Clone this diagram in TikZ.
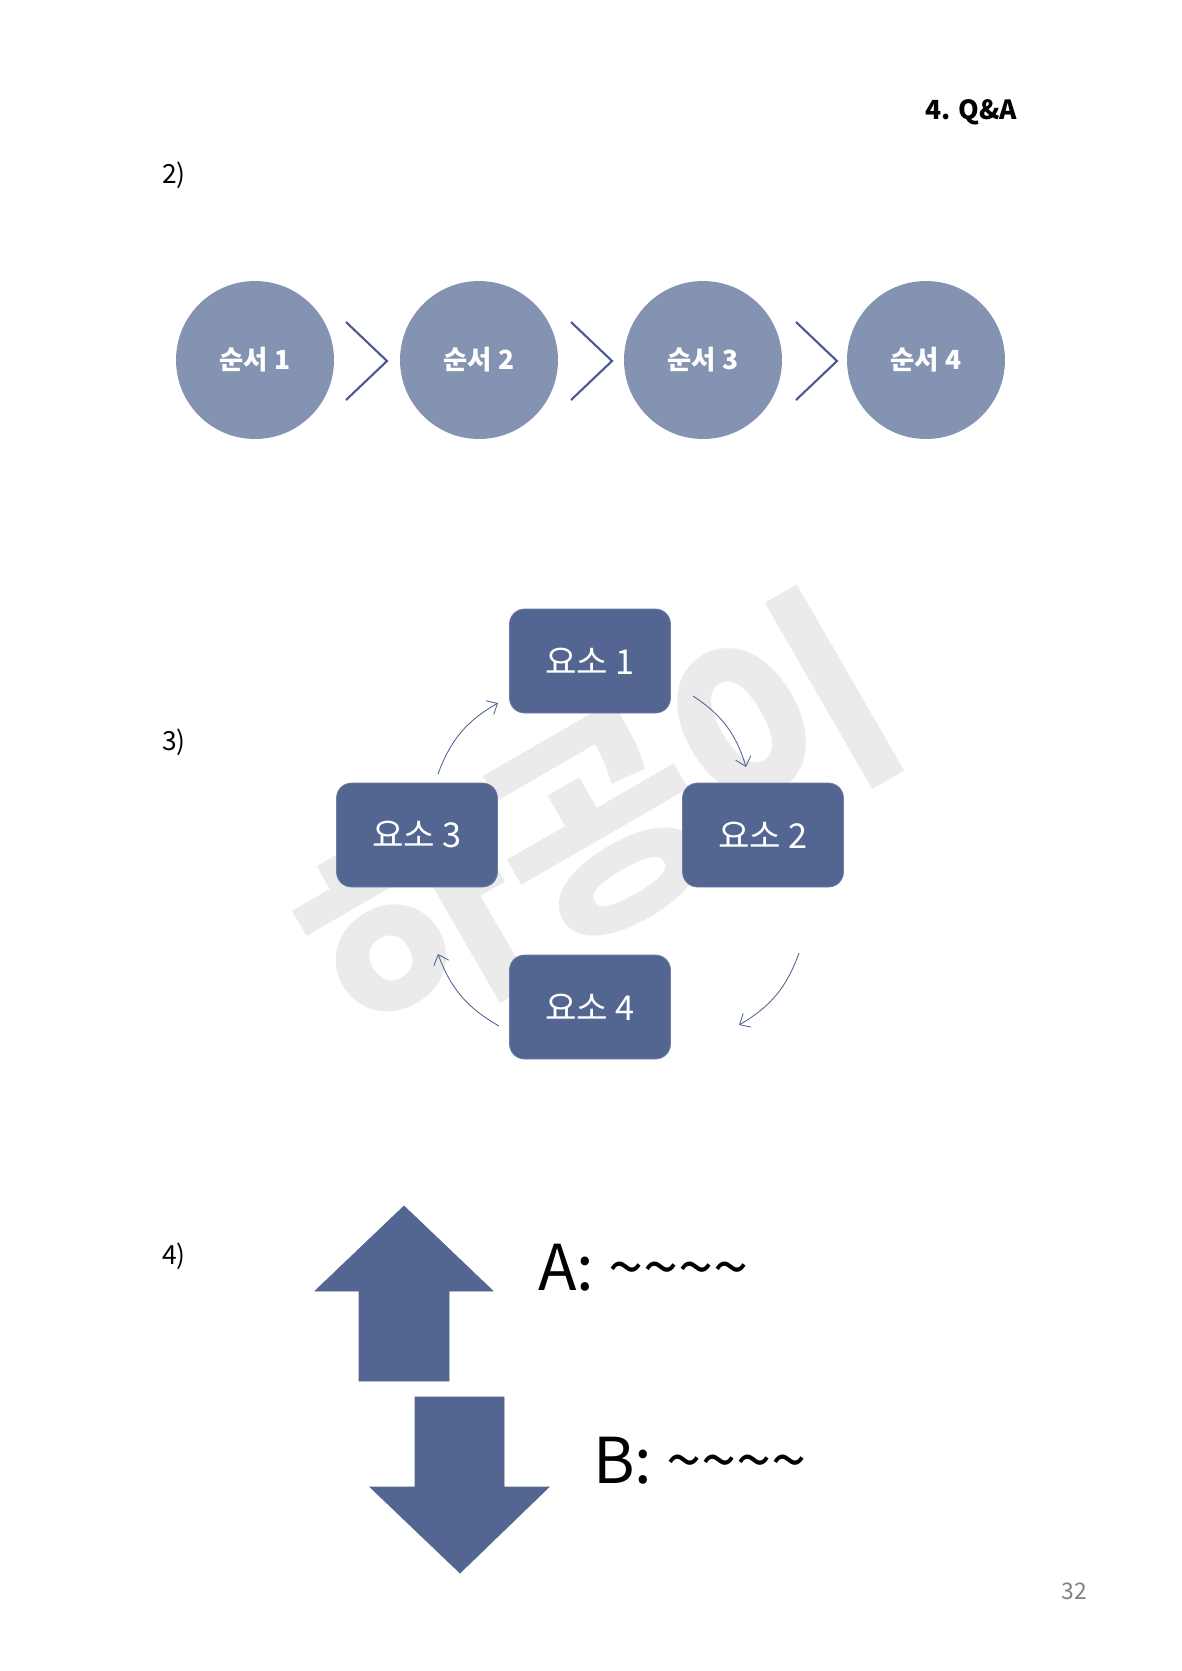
\documentclass[tikz,border=0pt]{standalone}
\usepackage{fontspec}
\newfontfamily\kr{Noto Sans CJK KR}
\usetikzlibrary{arrows.meta,shapes}
\definecolor{circ}{HTML}{8593B3}
\definecolor{boxc}{HTML}{536591}
\definecolor{chev}{HTML}{4A5A8F}
\definecolor{wmark}{HTML}{EBEBEB}
\tikzset{stepcirc/.style={circle,fill=circ,minimum size=3.16cm,inner sep=0pt,text=white,font=\kr\bfseries\fontsize{15}{15}\selectfont},
elem/.style={rounded corners=0.3cm,fill=boxc,draw=boxc!85!white,minimum width=3.22cm,minimum height=2.08cm,text=white,font=\kr\fontsize{19.5}{20}\selectfont},
cyc/.style={draw=boxc,line width=0.5pt,-{Straight Barb[length=5pt,width=9pt]}},
chevline/.style={draw=chev,line width=1.2pt},
lbl/.style={font=\kr\fontsize{15}{15}\selectfont}}

\begin{document}
\begin{tikzpicture}[x=0.02cm,y=0.02cm]
\useasboundingbox (0,0) rectangle (1181,-1671);
% watermark
\node[font=\kr\bfseries\fontsize{130}{130}\selectfont,text=wmark,rotate=30] (wm) at (598,-824) {하공이};

\node[font=\kr\bfseries\fontsize{15}{15}\selectfont] (title) at (971,-112) {4. Q\&A};
\node[font=\kr\fontsize{13}{13}\selectfont,text=gray] (page) at (1074,-1591) {32};

% 2)
\node[lbl] (l2) at (174,-175) {2)};
\node[stepcirc] (c1) at (255,-360) {순서 1};
\node[stepcirc] (c2) at (479,-360) {순서 2};
\node[stepcirc] (c3) at (703,-360) {순서 3};
\node[stepcirc] (c4) at (926,-360) {순서 4};
\foreach \x in {346,571,796}
  \draw[chevline] (\x,-322) -- ++(41,-39) -- ++(-41,-39);

% 3)
\node[lbl] (l3) at (174,-742) {3)};
\node[elem] (e1) at (590,-661) {요소 1};
\node[elem] (e2) at (763,-835) {요소 2};
\node[elem] (e3) at (417,-835) {요소 3};
\node[elem] (e4) at (590,-1007) {요소 4};
\coordinate (s31) at (438,-774);
\coordinate (t31) at (498,-703);
\coordinate (s12) at (693,-696);
\coordinate (t12) at (746,-767);
\coordinate (s24) at (799,-953);
\coordinate (t24) at (739,-1025);
\coordinate (s43) at (499,-1026);
\coordinate (t43) at (438,-954);
\draw[cyc] (s31) to[bend left=20] (t31);
\draw[cyc] (s12) to[bend left=20] (t12);
\draw[cyc] (s24) to[bend left=20] (t24);
\draw[cyc] (s43) to[bend left=20] (t43);

% 4)
\node[lbl] (l4) at (174,-1256) {4)};
\filldraw[fill=boxc,draw=boxc] (404,-1206) -- (493,-1291) -- (449,-1291) -- (449,-1381) -- (359,-1381) -- (359,-1291) -- (315,-1291) -- cycle;
\filldraw[fill=boxc,draw=boxc] (415,-1397) -- (504,-1397) -- (504,-1487) -- (549,-1487) -- (460,-1573) -- (370,-1487) -- (415,-1487) -- cycle;
\node[font=\kr\fontsize{36}{36}\selectfont,anchor=base west,inner sep=0pt] (qa) at (538,-1290) {A: \textasciitilde\textasciitilde\textasciitilde\textasciitilde};
\node[font=\kr\fontsize{36}{36}\selectfont,anchor=base west,inner sep=0pt] (qb) at (593,-1483) {B: \textasciitilde\textasciitilde\textasciitilde\textasciitilde};
\end{tikzpicture}
\end{document}
